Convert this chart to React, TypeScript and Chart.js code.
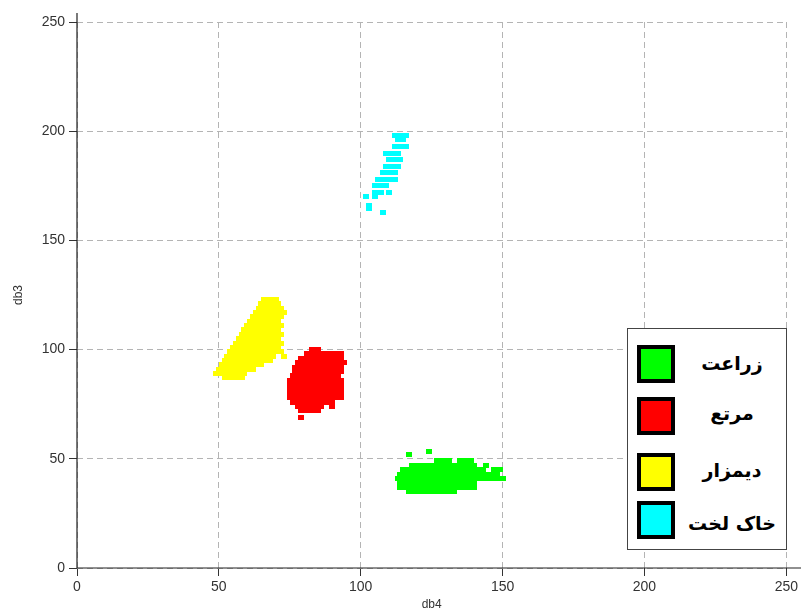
import React, { useEffect, useRef } from "react";
import { Chart, registerables } from "chart.js";

Chart.register(...registerables);

// Each row: [db3 value, list of db4 values]
const zeraatRows: [number, number[]][] = [
  [53.5, [124]],
  [52, [117]],
  [49, [127, 129, 131, 135, 137, 139]],
  [47, [118, 120, 122, 124, 126, 128, 130, 132, 134, 136, 138, 140, 144]],
  [45, [115, 117, 119, 121, 123, 125, 127, 129, 131, 133, 135, 137, 139, 141, 143, 147, 149]],
  [43, [114, 116, 118, 120, 122, 124, 126, 128, 130, 132, 134, 136, 138, 140, 142, 144, 146, 148]],
  [41, [113, 115, 117, 119, 121, 123, 125, 127, 129, 131, 133, 135, 137, 139, 141, 143, 145, 147, 149, 150]],
  [39, [114, 116, 118, 120, 122, 124, 126, 128, 130, 132, 134, 136, 138, 140]],
  [37, [114, 116, 118, 120, 122, 124, 126, 128, 130, 132, 134, 136, 138, 140]],
  [35, [117, 119, 121, 123, 125, 127, 129, 131, 133]],
];

const marttaRows: [number, number[]][] = [
  [100, [83, 85]],
  [98, [81, 83, 85, 87, 89, 91, 93]],
  [96, [79, 81, 83, 85, 87, 89, 91, 93]],
  [94, [78, 80, 82, 84, 86, 88, 90, 92, 94]],
  [92, [77, 79, 81, 83, 85, 87, 89, 91, 93]],
  [90, [77, 79, 81, 83, 85, 87, 89, 91, 93]],
  [88, [76, 78, 80, 82, 84, 86, 88, 90, 92]],
  [86, [75, 77, 79, 81, 83, 85, 87, 89, 91, 93]],
  [84, [75, 77, 79, 81, 83, 85, 87, 89, 91, 93]],
  [82, [75, 77, 79, 81, 83, 85, 87, 89, 91, 93]],
  [80, [75, 77, 79, 81, 83, 85, 87, 89, 91, 93]],
  [78, [75, 77, 79, 81, 83, 85, 87, 89, 91, 93]],
  [76, [76, 78, 80, 82, 84, 86, 88, 90]],
  [74, [78, 80, 82, 84, 86, 90]],
  [72, [79, 81, 83, 85]],
  [69, [79]],
];

const deymazarRows: [number, number[]][] = [
  [123, [66, 68, 70]],
  [121, [65, 67, 69, 71]],
  [119, [64, 66, 68, 70, 72]],
  [117, [63, 65, 67, 69, 71, 73]],
  [115, [62, 64, 66, 68, 70, 72]],
  [113, [61, 63, 65, 67, 69, 71]],
  [111, [60, 62, 64, 66, 68, 70, 72]],
  [109, [59, 61, 63, 65, 67, 69, 71]],
  [107, [58, 60, 62, 64, 66, 68, 70, 72]],
  [105, [57, 59, 61, 63, 65, 67, 69, 71]],
  [103, [56, 58, 60, 62, 64, 66, 68, 70, 72]],
  [101, [55, 57, 59, 61, 63, 65, 67, 69, 71]],
  [99, [54, 56, 58, 60, 62, 64, 66, 68, 70, 72]],
  [97, [53, 55, 57, 59, 61, 63, 65, 67, 69, 73]],
  [95, [52, 54, 56, 58, 60, 62, 64, 66, 68]],
  [93, [51, 53, 55, 57, 59, 61, 63, 65]],
  [91, [50, 52, 54, 56, 58, 60, 62]],
  [89, [49, 51, 53, 55, 57, 59]],
  [87, [52, 54, 56, 58]],
];

const khakRows: [number, number[]][] = [
  [198, [112, 114, 116]],
  [196, [113, 115]],
  [193, [112, 114, 116]],
  [190, [109, 111, 113]],
  [187, [110, 112, 114]],
  [184, [109, 111, 113]],
  [181, [108, 110, 112]],
  [178, [106, 108, 110, 112]],
  [175, [105, 107, 109]],
  [172, [105, 107, 110]],
  [170, [102, 105]],
  [166, [103]],
  [164.5, [103]],
  [163, [108]],
];

const classLabels = ["زراعت", "مرتع", "دیمزار", "خاک لخت"];
const classColors = ["#00ff00", "#ff0000", "#ffff00", "#00ffff"];
const classRows = [zeraatRows, marttaRows, deymazarRows, khakRows];

const axisMin = 0;
const axisMax = 250;
const tickStep = 50;
const xTitle = "db4";
const yTitle = "db3";

function toPoints(rows: [number, number[]][]) {
  return rows.flatMap(([y, xs]) => xs.map((x) => ({ x, y })));
}

function makeSquare(color: string) {
  const c = document.createElement("canvas");
  c.width = 6;
  c.height = 5;
  const g = c.getContext("2d")!;
  g.fillStyle = color;
  g.fillRect(0, 0, 6, 5);
  return c;
}

const axisLines = {
  id: "axisLines",
  afterDraw(chart: any) {
    const { ctx, chartArea, width } = chart;
    ctx.save();
    ctx.strokeStyle = "#222";
    ctx.lineWidth = 1.2;
    ctx.beginPath();
    ctx.moveTo(chartArea.left, 13);
    ctx.lineTo(chartArea.left, chartArea.bottom);
    ctx.moveTo(chartArea.left, chartArea.bottom);
    ctx.lineTo(width, chartArea.bottom);
    ctx.stroke();
    ctx.restore();
  },
};

export default function App() {
  const ref = useRef<HTMLCanvasElement>(null);

  useEffect(() => {
    if (!ref.current) return;
    const datasets = classRows.map((rows, i) => ({
      label: classLabels[i],
      data: toPoints(rows),
      pointStyle: makeSquare(classColors[i]) as any,
      backgroundColor: classColors[i],
      borderWidth: 0,
      pointRadius: 3,
    }));
    const gridCommon = {
      color: "#b4b4b4",
      lineWidth: 1,
      tickLength: 8,
      tickColor: "#333",
      tickWidth: 1,
    };
    const chart = new Chart(ref.current, {
      type: "scatter",
      data: { datasets },
      plugins: [axisLines],
      options: {
        animation: false,
        responsive: true,
        maintainAspectRatio: false,
        events: [],
        layout: { padding: { top: 22, right: 12, left: 0, bottom: 0 } },
        plugins: { legend: { display: false }, tooltip: { enabled: false } },
        scales: {
          x: {
            type: "linear",
            min: axisMin,
            max: axisMax,
            ticks: {
              stepSize: tickStep,
              color: "#333",
              padding: 3,
              maxRotation: 0,
              font: { family: "Liberation Sans", size: 14 },
            },
            grid: gridCommon,
            border: { display: false, dash: [6, 4] },
            title: {
              display: true,
              text: xTitle,
              color: "#333",
              font: { family: "Liberation Sans", size: 12, lineHeight: 0.8 },
              padding: { top: 0, bottom: 0 },
            },
            afterFit: (s: any) => {
              s.height = 41;
            },
          },
          y: {
            type: "linear",
            min: axisMin,
            max: axisMax,
            ticks: {
              stepSize: tickStep,
              color: "#333",
              padding: 4,
              font: { family: "Liberation Sans", size: 14 },
            },
            grid: gridCommon,
            border: { display: false, dash: [6, 4] },
            title: {
              display: true,
              text: yTitle,
              color: "#333",
              font: { family: "Liberation Sans", size: 12 },
              padding: { top: 11, bottom: 0 },
            },
            afterFit: (s: any) => {
              s.width = 77;
            },
          },
        },
      } as any,
    });
    return () => chart.destroy();
  }, []);

  const boxTops = [17, 69, 125, 173];
  const textCenters = [35, 85, 142, 195];

  return (
    <div style={{ position: "fixed", left: 0, top: 0, width: 801, height: 609, background: "#fff" }}>
      <canvas ref={ref} />
      <div
        style={{
          position: "absolute",
          left: 627,
          top: 328,
          width: 158,
          height: 220,
          border: "1px solid #444",
          background: "#fff",
        }}
      >
        {classLabels.map((lab, i) => (
          <React.Fragment key={lab}>
            <div
              style={{
                position: "absolute",
                left: 9,
                top: boxTops[i] - 1,
                width: 30,
                height: 30,
                border: "4px solid #000",
                background: classColors[i],
              }}
            />
            <div
              dir="rtl"
              style={{
                position: "absolute",
                left: 52,
                width: 104,
                top: textCenters[i] - 1 - 15,
                height: 30,
                lineHeight: "30px",
                textAlign: "center",
                fontFamily: "'DejaVu Sans', sans-serif",
                fontWeight: "bold",
                fontSize: 19,
                color: "#000",
                whiteSpace: "nowrap",
              }}
            >
              {lab}
            </div>
          </React.Fragment>
        ))}
      </div>
    </div>
  );
}
